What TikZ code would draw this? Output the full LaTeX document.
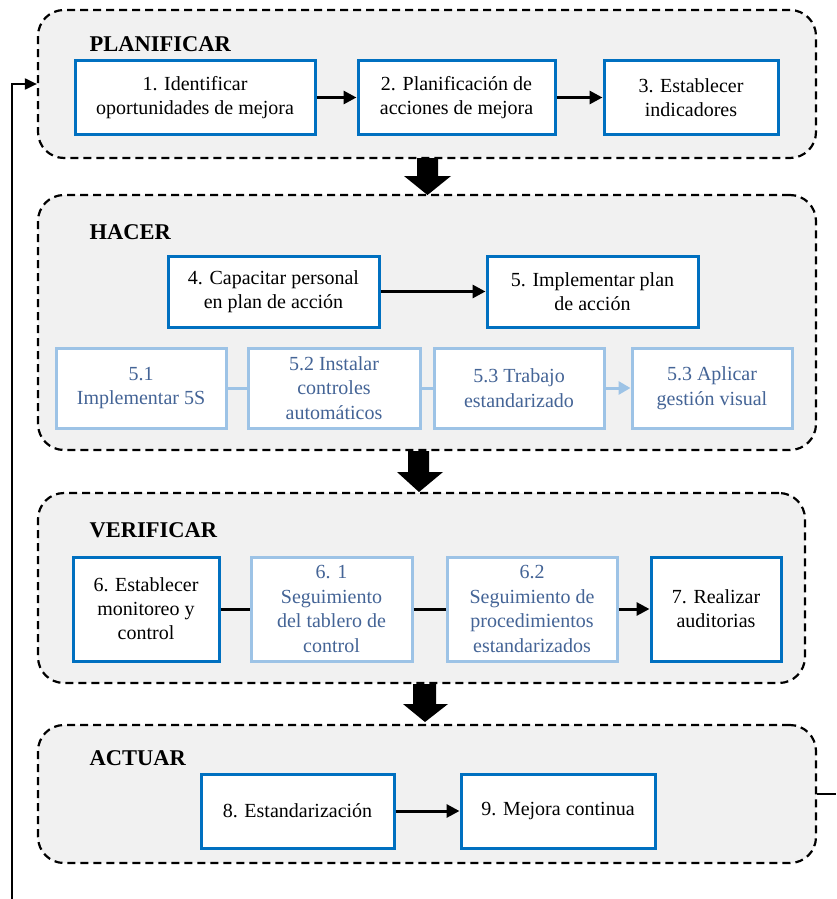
\documentclass[tikz,border=0pt]{standalone}
\usepackage{fontspec}
\setmainfont{LiberationSerif}[Extension=.ttf,UprightFont=*-Regular,BoldFont=*-Bold,ItalicFont=*-Italic,BoldItalicFont=*-BoldItalic]
\usetikzlibrary{arrows.meta}
\definecolor{dblue}{HTML}{0070C0}
\definecolor{lblue}{RGB}{157,195,230}
\definecolor{ltext}{RGB}{68,100,150}
\definecolor{panelgray}{HTML}{F1F1F1}
\begin{document}
\begin{tikzpicture}[x=1pt,y=-1pt,
  panel/.style={draw=black,fill=panelgray,line width=2.2pt,dash pattern=on 8pt off 5pt,rounded corners=26pt,inner sep=0pt},
  ptitle/.style={anchor=west,font=\fontsize{22.5}{26}\selectfont\bfseries},
  mainbox/.style={draw=dblue,fill=white,line width=3pt,align=center,inner sep=0pt,font=\fontsize{20}{24}\selectfont},
  subbox/.style={draw=lblue,fill=white,line width=3pt,align=center,inner sep=0pt,text=ltext,font=\fontsize{20}{24.5}\selectfont},
  conn/.style={line width=3pt,-{Triangle[length=13pt,width=13pt]}},
  plain/.style={line width=3pt},
  subconn/.style={draw=lblue,line width=3pt},
  blockarrow/.style={fill=black,draw=none}
]
\useasboundingbox (0,0) rectangle (836,899);
% panels
\node[panel,minimum width=778pt,minimum height=148pt] (P) at (427,84) {};
\node[panel,minimum width=778pt,minimum height=255pt] (H) at (427,322.5) {};
\node[panel,minimum width=767pt,minimum height=190pt] (V) at (421.5,588) {};
\node[panel,minimum width=778pt,minimum height=138pt] (A) at (427,794) {};
% titles
\node[ptitle] (tP) at (86,44) {PLANIFICAR};
\node[ptitle] (tH) at (86,232) {HACER};
\node[ptitle] (tV) at (86,530) {VERIFICAR};
\node[ptitle] (tA) at (86,758) {ACTUAR};
% block arrows
\fill[blockarrow] (417,158) -- (438,158) -- (438,176) -- (451,176) -- (427.5,195) -- (404,176) -- (417,176) -- cycle;
\fill[blockarrow] (408,451) -- (429,451) -- (429,472) -- (443,472) -- (419,492) -- (397,472) -- (408,472) -- cycle;
\fill[blockarrow] (413,684) -- (436,684) -- (436,704) -- (448,704) -- (425,722) -- (403,704) -- (413,704) -- cycle;
% PLANIFICAR
\node[mainbox,minimum width=240pt,minimum height=73pt] (b1) at (195,97.5) {1. Identificar\\oportunidades de mejora};
\node[mainbox,minimum width=197pt,minimum height=73pt] (b2) at (456.5,97.5) {2. Planificación de\\acciones de mejora};
\node[mainbox,minimum width=174pt,minimum height=73pt] (b3) at (691,97.5) {3. Establecer\\indicadores};
\draw[conn] (b1) -- (b2);
\draw[conn] (b2) -- (b3);
% HACER
\node[mainbox,minimum width=211pt,minimum height=71pt] (b4) at (273.5,291.5) {4. Capacitar personal\\en plan de acción};
\node[mainbox,minimum width=211pt,minimum height=71pt] (b5) at (592.5,291.5) {5. Implementar plan\\de acción};
\draw[conn] (b4) -- (b5);
\node[subbox,minimum width=170pt,minimum height=80pt] (s1) at (141,388) {5.1\\Implementar 5S};
\node[subbox,minimum width=172pt,minimum height=80pt] (s2) at (334,388) {5.2 Instalar\\controles\\automáticos};
\node[subbox,minimum width=170pt,minimum height=80pt] (s3) at (519,388) {5.3 Trabajo\\estandarizado};
\node[subbox,minimum width=160pt,minimum height=80pt] (s4) at (712,388) {5.3 Aplicar\\gestión visual};
\draw[subconn] (s1) -- (s2);
\draw[subconn] (s2) -- (s3);
\draw[subconn,-{Triangle[length=12pt,width=13pt]}] (s3) -- (s4);
% VERIFICAR
\node[mainbox,minimum width=146pt,minimum height=104pt] (b6) at (146,609) {6. Establecer\\monitoreo y\\control};
\node[subbox,minimum width=161pt,minimum height=104pt] (s61) at (331.5,609) {6. 1\\Seguimiento\\del tablero de\\control};
\node[subbox,minimum width=170pt,minimum height=104pt] (s62) at (532,609) {6.2\\Seguimiento de\\procedimientos\\estandarizados};
\node[mainbox,minimum width=130pt,minimum height=104pt] (b7) at (716,609) {7. Realizar\\auditorias};
\draw[plain] (b6) -- (s61);
\draw[plain] (s61) -- (s62);
\draw[conn] (s62) -- (b7);
% ACTUAR
\node[mainbox,minimum width=193pt,minimum height=74pt] (b8) at (297.5,811) {8. Estandarización};
\node[mainbox,minimum width=194pt,minimum height=74pt] (b9) at (558,811) {9. Mejora continua};
\draw[conn] (b8) -- (b9);
% feedback loop
\coordinate (fbL) at (12,899);
\coordinate (fbR) at (836,794);
\draw[line width=2pt,-{Triangle[length=12pt,width=11pt]}] (fbL) |- (P.west);
\draw[line width=2pt] (A.east) -- (fbR);
\end{tikzpicture}
\end{document}
